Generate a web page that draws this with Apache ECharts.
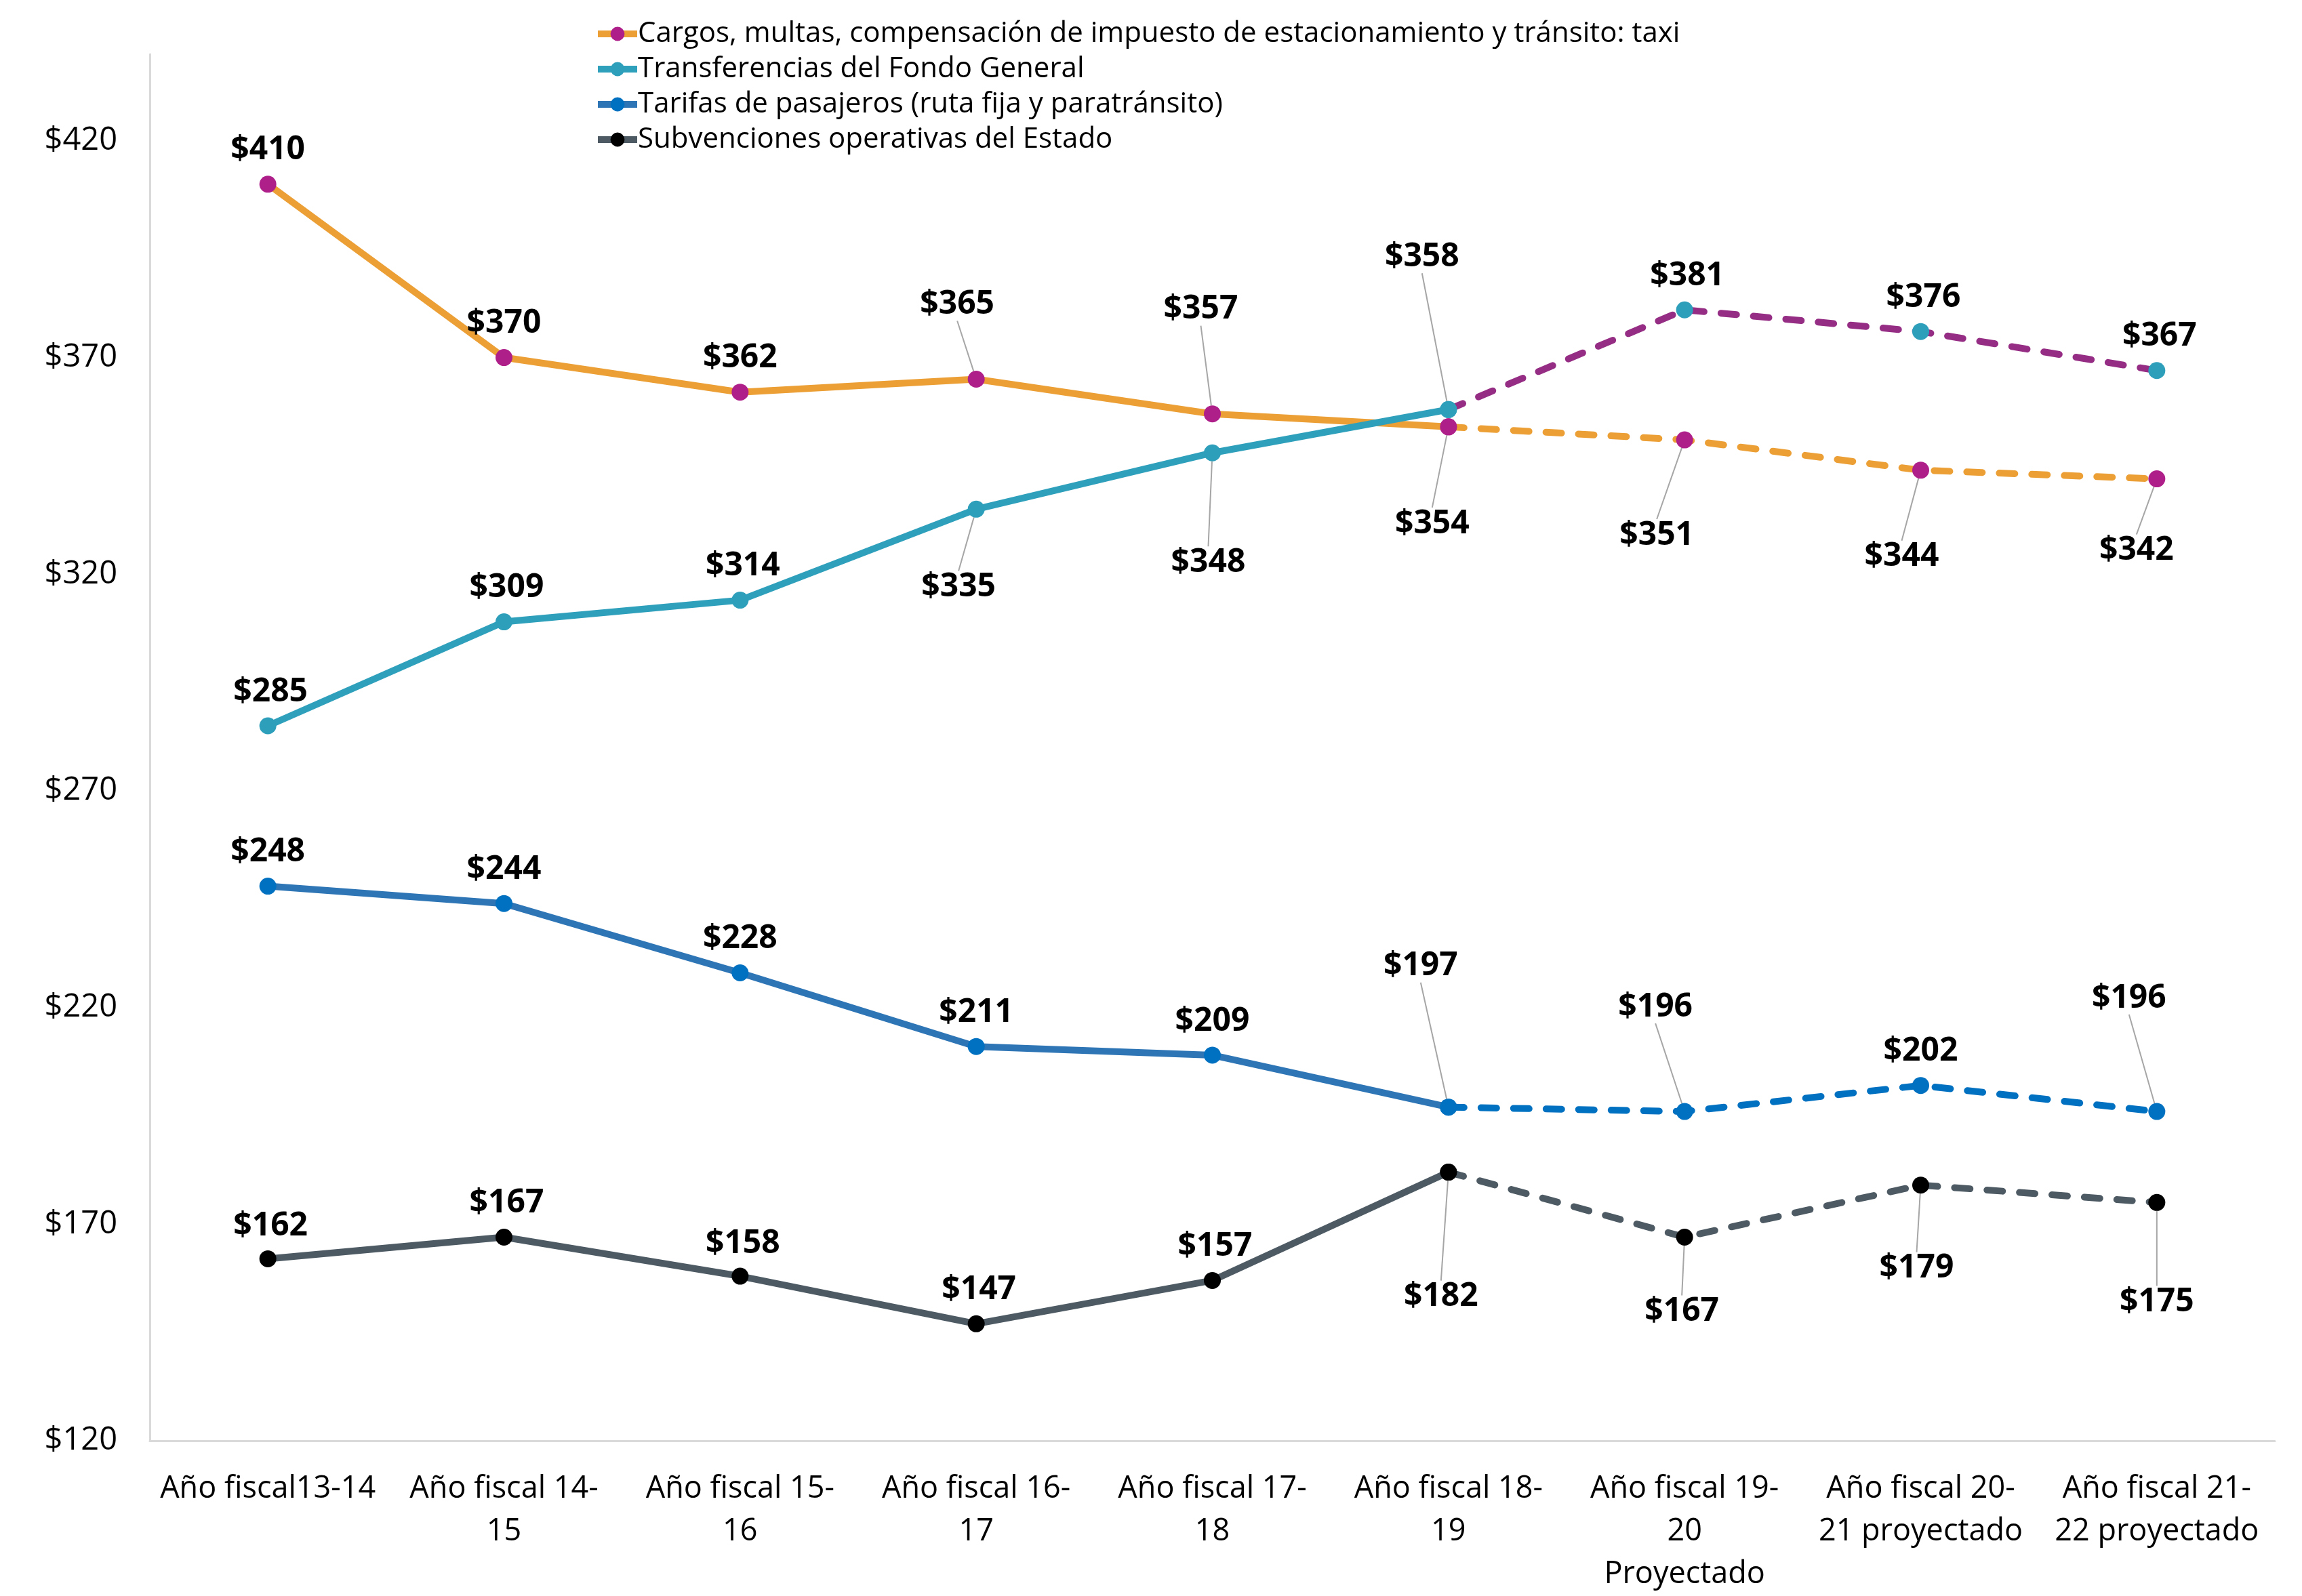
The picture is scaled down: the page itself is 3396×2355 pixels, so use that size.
<!DOCTYPE html>
<html>
<head>
<meta charset="utf-8">
<script src="https://cdn.jsdelivr.net/npm/echarts@6/dist/echarts.min.js"></script>
<style>
html,body{margin:0;padding:0;background:#fff;}
#chart{width:3396px;height:2355px;}
</style>
</head>
<body>
<div id="chart"></div>
<script>
// ---- Data ----
const categories = [
  'Año fiscal13-14',
  'Año fiscal 14-\n15',
  'Año fiscal 15-\n16',
  'Año fiscal 16-\n17',
  'Año fiscal 17-\n18',
  'Año fiscal 18-\n19',
  'Año fiscal 19-\n20\nProyectado',
  'Año fiscal 20-\n21 proyectado',
  'Año fiscal 21-\n22 proyectado'
];
const seriesNames = [
  'Cargos, multas, compensación de impuesto de estacionamiento y tránsito: taxi',
  'Transferencias del Fondo General',
  'Tarifas de pasajeros (ruta fija y paratránsito)',
  'Subvenciones operativas del Estado'
];
const cargos = [410, 370, 362, 365, 357, 354, 351, 344, 342];
const transferencias = [285, 309, 314, 335, 348, 358, 381, 376, 367];
const tarifas = [248, 244, 228, 211, 209, 197, 196, 202, 196];
const subvenciones = [162, 167, 158, 147, 157, 182, 167, 179, 175];
const lastActualIndex = 5;
const yMin = 120, yMax = 440, yInterval = 50;

// ---- Label placement (layout only) ----
const labelOffsets = [
  [[0,-50],[0,-50],[0,-50],[-28,-110],[-17,-154],[-24,143],[-41,141],[-28,128],[-30,106]],
  [[4,-50],[4,-50],[4,-50],[-26,115],[-6,162],[-39,-225],[4,-50],[4,-50],[4,-50]],
  [[0,-50],[0,-50],[0,-50],[0,-50],[0,-50],[-41,-208],[-43,-154],[0,-50],[-41,-167]],
  [[4,-48],[4,-50],[4,-48],[4,-50],[4,-50],[-11,184],[-4,110],[-6,123],[0,147]]
];
const leaders = [
  [0,0,0,1,1,1,1,1,1],
  [0,0,0,1,1,1,0,0,0],
  [0,0,0,0,0,1,1,0,1],
  [0,0,0,0,0,1,1,1,1]
];
const styles = [
  {line:'#EC9F35', dash:'#EC9F35', marker:'#AE1F8A'},
  {line:'#2FA0BC', dash:'#952D84', marker:'#2E9FBB'},
  {line:'#2E75B6', dash:'#0070C0', marker:'#0070C0'},
  {line:'#4D5A63', dash:'#4D5A63', marker:'#000000'}
];
const allValues = [cargos, transferencias, tarifas, subvenciones];

const FONT = '"Open Sans", "Noto Sans", sans-serif';

function makeData(vals, k, part) {
  return vals.map(function (v, i) {
    const inPart = part === 'solid' ? i <= lastActualIndex : i >= lastActualIndex;
    if (!inPart) return '-';
    const showLabel = part === 'solid' ? true : i > lastActualIndex;
    return {
      value: v,
      label: {show: showLabel},
      labelLine: {show: !!leaders[k][i] && showLabel}
    };
  });
}

const series = [];
allValues.forEach(function (vals, k) {
  ['solid', 'dashed'].forEach(function (part) {
    series.push({
      name: seriesNames[k],
      type: 'line',
      data: makeData(vals, k, part),
      z: part === 'solid' ? 3 : 2,
      symbol: 'circle',
      symbolSize: 25,
      showAllSymbol: true,
      connectNulls: false,
      lineStyle: {
        color: part === 'solid' ? styles[k].line : styles[k].dash,
        width: 10,
        type: part === 'solid' ? 'solid' : [23, 25],
        cap: part === 'solid' ? 'butt' : 'round'
      },
      itemStyle: {color: styles[k].marker},
      label: {
        show: true,
        formatter: function (p) { return '$' + p.value; },
        fontFamily: FONT,
        fontWeight: 'bold',
        fontSize: 48,
        color: '#000'
      },
      labelLine: {
        show: false,
        lineStyle: {color: '#a6a6a6', width: 2}
      },
      labelLayout: function (p) {
        const o = labelOffsets[k][p.dataIndex];
        const cx = p.rect.x + p.rect.width / 2;
        const cy = p.rect.y + p.rect.height / 2;
        return {x: cx + o[0], y: cy + o[1], align: 'center', verticalAlign: 'middle'};
      },
      emphasis: {disabled: true}
    });
  });
});

const chart = echarts.init(document.getElementById('chart'));
chart.setOption({
  animation: false,
  backgroundColor: '#ffffff',
  legend: {
    data: seriesNames,
    orient: 'vertical',
    left: 872,
    top: 24,
    itemWidth: 58,
    itemHeight: 26,
    itemGap: 10,
    lineStyle: {width: 10},
    textStyle: {fontFamily: FONT, fontSize: 42, color: '#000', padding: [0, 0, 0, -4]}
  },
  grid: {left: 221, right: 40, top: 80, bottom: 218, containLabel: false},
  xAxis: {
    type: 'category',
    data: categories,
    boundaryGap: true,
    axisLine: {show: true, lineStyle: {color: '#d9d9d9', width: 3}},
    axisTick: {show: false},
    axisLabel: {
      interval: 0,
      margin: 40,
      fontFamily: FONT,
      fontSize: 45,
      lineHeight: 63,
      color: '#000'
    }
  },
  yAxis: {
    type: 'value',
    min: yMin,
    max: yMax,
    interval: yInterval,
    axisLine: {show: true, lineStyle: {color: '#d9d9d9', width: 3}},
    axisTick: {show: false},
    splitLine: {show: false},
    axisLabel: {
      showMaxLabel: false,
      margin: 48,
      fontFamily: FONT,
      fontSize: 47,
      color: '#000',
      formatter: function (v) { return '$' + v; }
    }
  },
  series: series
});
</script>
</body>
</html>
